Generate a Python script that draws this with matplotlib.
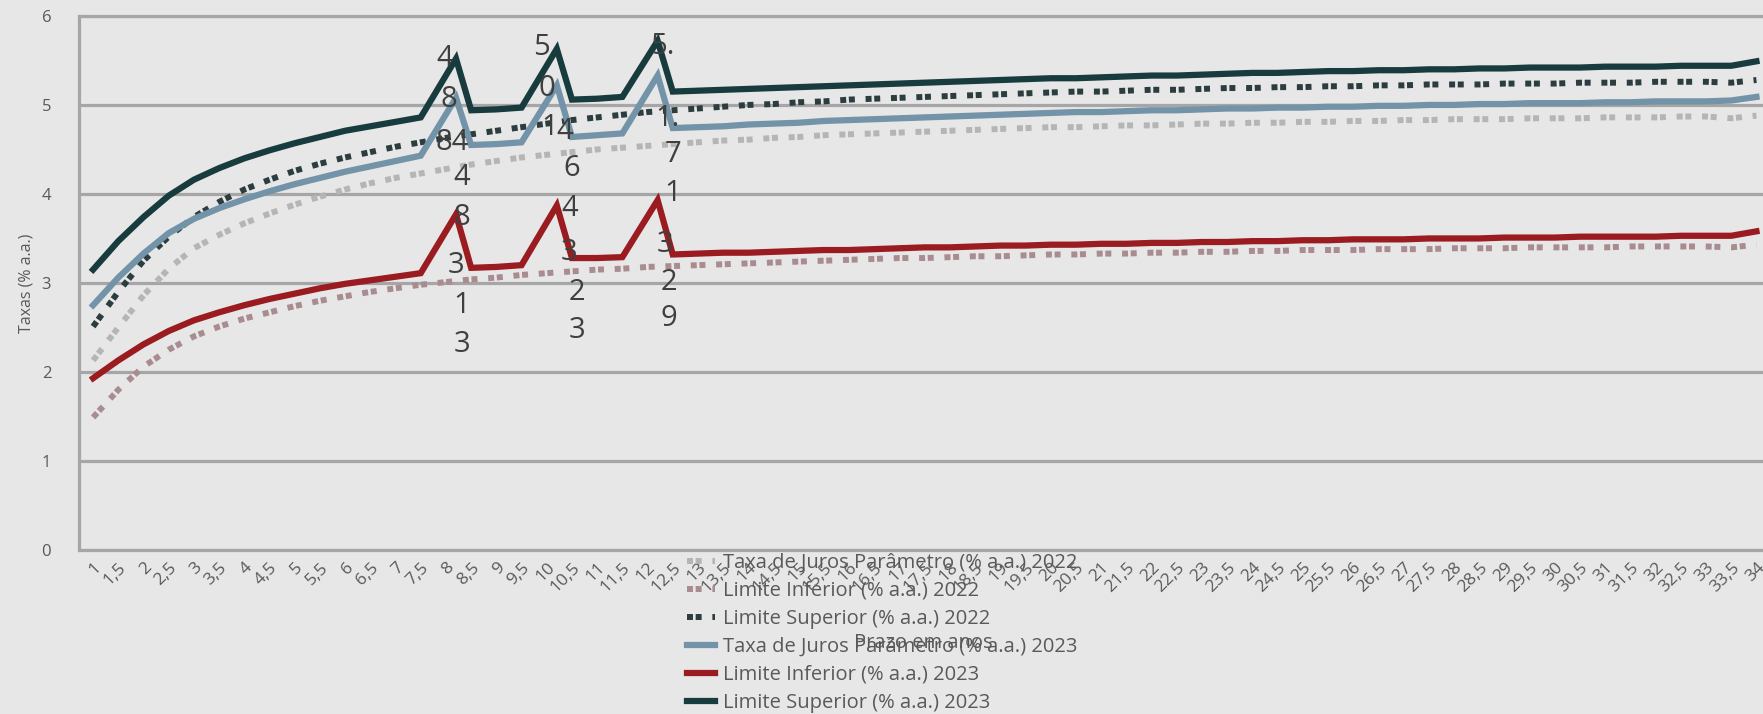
import matplotlib
matplotlib.use("Agg")
import matplotlib.pyplot as plt

plt.rcParams['font.family'] = ['Open Sans', 'DejaVu Sans']

# prazo (anos) - categorias do eixo x
prazo = [1, 1.5, 2, 2.5, 3, 3.5, 4, 4.5, 5, 5.5, 6, 6.5, 7, 7.5, 8, 8.5, 9, 9.5,
         10, 10.5, 11, 11.5, 12, 12.5, 13, 13.5, 14, 14.5, 15, 15.5, 16, 16.5,
         17, 17.5, 18, 18.5, 19, 19.5, 20, 20.5, 21, 21.5, 22, 22.5, 23, 23.5,
         24, 24.5, 25, 25.5, 26, 26.5, 27, 27.5, 28, 28.5, 29, 29.5, 30, 30.5,
         31, 31.5, 32, 32.5, 33, 33.5, 34]
tick_labels = [f"{v:g}".replace('.', ',') for v in prazo]

# 2023 tem picos logo depois de 8, 10 e 12 anos
prazo_2023 = [1, 1.5, 2, 2.5, 3, 3.5, 4, 4.5, 5, 5.5, 6, 6.5, 7, 7.5, 8.2, 8.5, 9, 9.5,
              10.2, 10.5, 11, 11.5, 12.2, 12.5, 13, 13.5, 14, 14.5, 15, 15.5, 16, 16.5,
              17, 17.5, 18, 18.5, 19, 19.5, 20, 20.5, 21, 21.5, 22, 22.5, 23, 23.5,
              24, 24.5, 25, 25.5, 26, 26.5, 27, 27.5, 28, 28.5, 29, 29.5, 30, 30.5,
              31, 31.5, 32, 32.5, 33, 33.5, 34]

taxa_2022 = [2.13, 2.50, 2.86, 3.16, 3.39, 3.54, 3.67, 3.78, 3.88, 3.97, 4.05, 4.12,
             4.18, 4.23, 4.28, 4.33, 4.37, 4.41, 4.44, 4.47, 4.50, 4.52, 4.54, 4.56,
             4.58, 4.60, 4.61, 4.63, 4.64, 4.66, 4.67, 4.68, 4.69, 4.70, 4.71, 4.72,
             4.73, 4.74, 4.75, 4.75, 4.76, 4.77, 4.77, 4.78, 4.79, 4.79, 4.80, 4.80,
             4.81, 4.81, 4.82, 4.82, 4.83, 4.83, 4.84, 4.84, 4.84, 4.85, 4.85, 4.85,
             4.86, 4.86, 4.86, 4.87, 4.87, 4.85, 4.88]
inf_2022 = [1.49, 1.80, 2.06, 2.25, 2.40, 2.51, 2.60, 2.67, 2.74, 2.80, 2.85, 2.90,
            2.94, 2.98, 3.01, 3.04, 3.06, 3.09, 3.11, 3.13, 3.15, 3.16, 3.18, 3.19,
            3.20, 3.21, 3.22, 3.23, 3.24, 3.25, 3.26, 3.27, 3.28, 3.28, 3.29, 3.30,
            3.30, 3.31, 3.32, 3.32, 3.33, 3.33, 3.34, 3.34, 3.35, 3.35, 3.36, 3.36,
            3.37, 3.37, 3.37, 3.38, 3.38, 3.38, 3.39, 3.39, 3.39, 3.40, 3.40, 3.40,
            3.40, 3.41, 3.41, 3.41, 3.41, 3.40, 3.43]
sup_2022 = [2.51, 2.90, 3.25, 3.52, 3.74, 3.91, 4.05, 4.16, 4.26, 4.34, 4.41, 4.47,
            4.53, 4.58, 4.63, 4.67, 4.71, 4.75, 4.79, 4.83, 4.86, 4.89, 4.92, 4.94,
            4.96, 4.98, 5.00, 5.01, 5.03, 5.04, 5.06, 5.07, 5.08, 5.09, 5.10, 5.11,
            5.12, 5.13, 5.14, 5.15, 5.15, 5.16, 5.17, 5.17, 5.18, 5.19, 5.19, 5.20,
            5.20, 5.21, 5.21, 5.22, 5.22, 5.23, 5.23, 5.23, 5.24, 5.24, 5.24, 5.25,
            5.25, 5.25, 5.26, 5.26, 5.26, 5.25, 5.28]
taxa_2023 = [2.75, 3.06, 3.33, 3.56, 3.72, 3.84, 3.94, 4.03, 4.11, 4.18, 4.25, 4.31,
             4.37, 4.43, 5.08, 4.55, 4.56, 4.58, 5.22, 4.64, 4.66, 4.68, 5.33, 4.74,
             4.75, 4.76, 4.78, 4.79, 4.80, 4.82, 4.83, 4.84, 4.85, 4.86, 4.87, 4.88,
             4.89, 4.90, 4.91, 4.92, 4.92, 4.93, 4.94, 4.94, 4.95, 4.96, 4.96, 4.97,
             4.97, 4.98, 4.98, 4.99, 4.99, 5.00, 5.00, 5.01, 5.01, 5.02, 5.02, 5.02,
             5.03, 5.03, 5.04, 5.04, 5.04, 5.05, 5.09]
inf_2023 = [1.93, 2.13, 2.31, 2.46, 2.58, 2.67, 2.75, 2.82, 2.88, 2.94, 2.99, 3.03,
            3.07, 3.11, 3.77, 3.17, 3.18, 3.20, 3.87, 3.28, 3.28, 3.29, 3.93, 3.32,
            3.33, 3.34, 3.34, 3.35, 3.36, 3.37, 3.37, 3.38, 3.39, 3.40, 3.40, 3.41,
            3.42, 3.42, 3.43, 3.43, 3.44, 3.44, 3.45, 3.45, 3.46, 3.46, 3.47, 3.47,
            3.48, 3.48, 3.49, 3.49, 3.49, 3.50, 3.50, 3.50, 3.51, 3.51, 3.51, 3.52,
            3.52, 3.52, 3.52, 3.53, 3.53, 3.53, 3.58]
sup_2023 = [3.15, 3.47, 3.74, 3.98, 4.16, 4.29, 4.40, 4.49, 4.57, 4.64, 4.71, 4.76,
            4.81, 4.86, 5.52, 4.94, 4.95, 4.97, 5.63, 5.06, 5.07, 5.09, 5.72, 5.15,
            5.16, 5.17, 5.18, 5.19, 5.20, 5.21, 5.22, 5.23, 5.24, 5.25, 5.26, 5.27,
            5.28, 5.29, 5.30, 5.30, 5.31, 5.32, 5.33, 5.33, 5.34, 5.35, 5.36, 5.36,
            5.37, 5.38, 5.38, 5.39, 5.39, 5.40, 5.40, 5.41, 5.41, 5.42, 5.42, 5.42,
            5.43, 5.43, 5.43, 5.44, 5.44, 5.44, 5.49]

# rótulos de dados quebrados (um caractere por linha), como aparecem no gráfico
label_x = [7.98, 8.05, 8.13, 8.32, 8.32, 8.2, 8.32, 8.32,
           9.9, 10.0, 10.05, 10.35, 10.5, 10.45, 10.45, 10.6, 10.6,
           12.3, 12.4, 12.5, 12.5, 12.35, 12.42, 12.42]
label_y = [5.52, 5.06, 4.58, 4.18, 3.73, 3.2, 2.75, 2.31,
           5.64, 5.19, 4.75, 4.7, 4.29, 3.84, 3.34, 2.89, 2.47,
           5.66, 4.85, 4.44, 4.01, 3.43, 3.0, 2.6]
label_txt = ['4', '8', '84', '4', '8', '3', '1', '3',
             '5', '0', '1', '4', '6', '4', '3', '2', '3',
             '5.', '1.', '7', '1', '3', '2', '9']

bg = '#e7e7e7'
grid_c = '#a6a6a6'
dot = (0, (1.0, 0.45, 1.0, 1.8))

fig = plt.figure(figsize=(17.63, 7.14), dpi=100, facecolor=bg)
ax = fig.add_axes([0.0448, 0.2297, 0.9552, 0.748], facecolor=bg)

ax.plot(prazo, taxa_2022, color='#b5b5b5', lw=4.3, ls=dot, dash_capstyle='butt',
        label='Taxa de Juros Parâmetro (% a.a.) 2022')
ax.plot(prazo, inf_2022, color='#a98c90', lw=4.3, ls=dot, dash_capstyle='butt',
        label='Limite Inferior (% a.a.) 2022')
ax.plot(prazo, sup_2022, color='#2c3d40', lw=4.3, ls=dot, dash_capstyle='butt',
        label='Limite Superior (% a.a.) 2022')
ax.plot(prazo_2023, taxa_2023, color='#7393a8', lw=4.5, solid_joinstyle='miter',
        label='Taxa de Juros Parâmetro (% a.a.) 2023')
ax.plot(prazo_2023, inf_2023, color='#9a1b20', lw=4.5, solid_joinstyle='miter',
        label='Limite Inferior (% a.a.) 2023')
ax.plot(prazo_2023, sup_2023, color='#183b3e', lw=4.5, solid_joinstyle='miter',
        label='Limite Superior (% a.a.) 2023')

for x, y, t in zip(label_x, label_y, label_txt):
    ax.text(x, y, t, fontsize=21, color='#3f3f3f', ha='center', va='center')

ax.set_xlim(0.72, 34.13)
ax.set_ylim(0, 6)
ax.set_yticks(range(0, 7))
ax.set_xticks(prazo)
ax.set_xticklabels(tick_labels, rotation=45, ha='right', rotation_mode='anchor',
                   fontsize=12.5, color='#595959')
ax.tick_params(axis='y', length=0, pad=20, labelsize=12, labelcolor='#595959')
ax.tick_params(axis='x', length=0, pad=7)
ax.grid(axis='y', color=grid_c, lw=2.3)
ax.set_axisbelow(True)
ax.spines['right'].set_visible(False)
for s in ['left', 'bottom', 'top']:
    ax.spines[s].set_color(grid_c)
    ax.spines[s].set_linewidth(2.3)

ax.set_ylabel('Taxas (% a.a.)', fontsize=11.5, color='#595959', labelpad=5)
fig.text(0.524, 0.093, 'Prazo em anos', fontsize=14.5, color='#595959', ha='center')

leg = ax.legend(loc='upper left', bbox_to_anchor=(0.384, 0.24), bbox_transform=fig.transFigure,
                frameon=False, fontsize=14.5, handlelength=1.4, labelspacing=0.4,
                handletextpad=0.4, borderpad=0)
for t in leg.get_texts():
    t.set_color('#595959')

fig.savefig('out.png', dpi=100, facecolor=bg)
